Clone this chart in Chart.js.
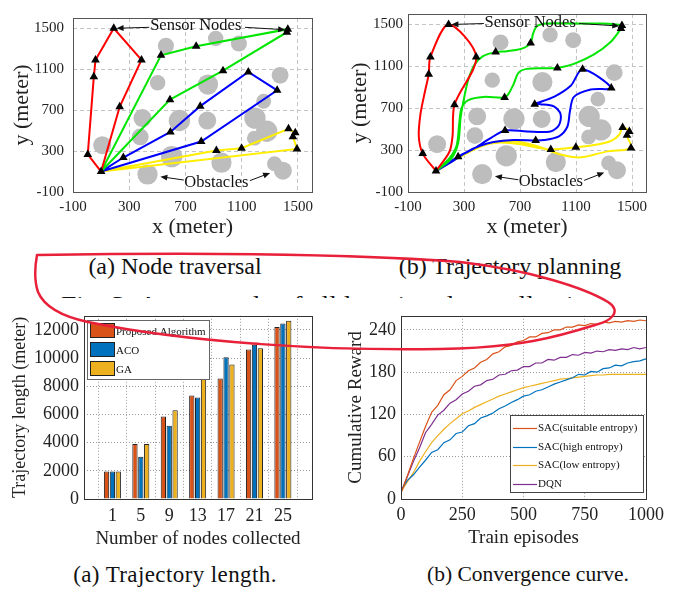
<!DOCTYPE html>
<html lang="en">
<head>
<meta charset="UTF-8">
<title>Node traversal, trajectory planning, trajectory length and convergence</title>
<script src="https://cdn.jsdelivr.net/npm/chart.js"></script>
<style>
    body {
        margin: 0;
        width: 681px;
        height: 595px;
        position: relative;
        overflow: hidden;
        background: #fff;
        font-family: 'Liberation Serif', 'Times New Roman', serif;
        color: #111;
    }
    canvas { position: absolute; z-index: 2; }
    .cap {
        position: absolute;
        width: 320px;
        text-align: center;
        line-height: 1;
        white-space: nowrap;
        z-index: 2;
    }
    .fig {
        position: absolute;
        left: 61px;
        top: 292px;
        font-size: 24px;
        line-height: 1;
        white-space: nowrap;
        transform: scaleX(1.15);
        transform-origin: left top;
    }
    .cover {
        position: absolute;
        left: 0; top: 298px;
        width: 681px; height: 297px;
        background: #fff;
        z-index: 1;
    }
    svg { position: absolute; left: 0; top: 0; z-index: 5; pointer-events: none; }
</style>
</head>
<body>

<canvas id="mapA" width="340" height="240" style="left:0;top:0"></canvas>
<canvas id="mapB" width="341" height="240" style="left:340px;top:0"></canvas>
<div class="cap" style="left:15px;top:254px;font-size:24px">(a) Node traversal</div>
<div class="cap" style="left:350px;top:254px;font-size:24px">(b) Trajectory planning</div>
<div class="fig">Fig. 3: An example of all location data collection</div>

<div class="cover"></div>
<canvas id="lengthChart" width="340" height="250" style="left:0;top:300px"></canvas>
<canvas id="rewardChart" width="341" height="250" style="left:340px;top:300px"></canvas>
<div class="cap" style="left:15px;top:563px;font-size:23px;letter-spacing:0.4px">(a) Trajectory length.</div>
<div class="cap" style="left:368px;top:564px;font-size:21.5px">(b) Convergence curve.</div>

<svg width="681" height="595">
    <path d="M 37 255 C 160 253, 330 252, 460 262 C 530 270, 585 288, 608 302 C 622 311, 612 321, 595 325
             C 560 336, 520 348, 440 349 C 330 351, 190 343, 88 322 C 60 316, 44 306, 38 292 C 34 280, 35 266, 37 255"
          fill="none" stroke="#e8203a" stroke-width="2.5" stroke-linecap="round"/>
</svg>

<script>
    // ---- map figures (meters) ----
    const mapTicks = [-100, 300, 700, 1100, 1500];

    const obstacleX = [108, 430, 378, 394, 502, 561, 657, 602, 855, 860, 915, 1080, 956, 1373, 1256, 1194, 1278, 1190, 1333, 1393];
    const obstacleY = [357, 71, 438, 622, 968, 1329, 598, 246, 598, 950, 1401, 1350, 186, 1040, 787, 622, 493, 426, 177, 108];
    const obstacleR = [64, 72, 60, 64, 55, 57, 76, 76, 64, 72, 55, 57, 72, 60, 53, 76, 76, 53, 53, 64];

    // node visiting order of each UAV (left figure)
    const redRoute = [[100, 100], [5, 267], [48, 1025], [60, 1190], [190, 1500], [387, 1190], [232, 733], [100, 100]];
    const greenRoute = [[100, 100], [590, 802], [967, 1085], [1421, 1461], [1428, 1491], [776, 1323], [526, 1236], [100, 100]];
    const blueRoute = [[100, 100], [258, 237], [593, 487], [805, 739], [1147, 1073], [1352, 893], [812, 393], [100, 100]];
    const yellowRoute = [[100, 100], [920, 306], [1099, 327], [1433, 517], [1481, 478], [1464, 441], [1493, 321], [100, 100]];

    // planned trajectories (right figure)
    const redPath = [[100, 100], [5, 267], [-23, 432], [-11, 643], [20, 853], [48, 1025], [60, 1190], [190, 1500],
        [387, 1190], [232, 733], [218, 432], [195, 282], [100, 100]];
    const greenPath = [[100, 100], [195, 222], [247, 342], [266, 553], [283, 703], [331, 778], [439, 808], [590, 802],
        [618, 838], [654, 929], [690, 1040], [750, 1076], [870, 1082], [967, 1085], [1085, 1124], [1229, 1214],
        [1349, 1335], [1421, 1461], [1428, 1491], [1277, 1509], [1085, 1509], [894, 1509], [822, 1485], [793, 1410],
        [776, 1323], [714, 1269], [607, 1245], [526, 1236], [439, 1199], [379, 1124], [331, 974], [300, 793],
        [276, 613], [259, 372], [211, 222], [100, 100]];
    const bluePath = [[100, 100], [258, 237], [367, 312], [475, 402], [593, 487], [750, 478], [918, 478], [978, 538],
        [990, 643], [942, 718], [846, 739], [805, 739], [942, 808], [1062, 914], [1147, 1073], [1352, 893],
        [1205, 878], [1085, 808], [1057, 673], [1038, 523], [978, 432], [870, 396], [812, 393], [654, 396],
        [511, 378], [415, 342], [319, 282], [223, 198], [100, 100]];
    const yellowPath = [[100, 100], [247, 222], [415, 336], [559, 372], [702, 357], [846, 318], [920, 306], [1099, 327],
        [1229, 348], [1349, 387], [1409, 447], [1433, 517], [1481, 478], [1464, 441], [1493, 321], [1325, 288],
        [1133, 231], [990, 258], [846, 327], [702, 378], [559, 387], [391, 318], [223, 198], [100, 100]];

    const routeColors = ['#ff0000', '#00e600', '#0000ff', '#ffee00'];

    const noteText = ['Sensor Nodes', 'Obstacles'];
    const noteAt = [[773, 1521], [920, -4]];
    const arrowFrom = [[442, 1509], [1123, 1509], [688, 17], [1158, 11]];
    const arrowTo = [[210, 1500], [1409, 1485], [521, 50], [1302, 86]];

    // ---- trajectory length ----
    const nodesCollected = [1, 5, 9, 13, 17, 21, 25];
    const lenProposed = [1950, 3900, 5850, 7350, 8550, 10600, 12200];
    const lenACO = [1950, 3000, 5200, 7200, 10050, 10950, 12450];
    const lenGA = [1950, 3900, 6300, 8800, 9550, 10700, 12650];
    const lengthTicks = [0, 2000, 4000, 6000, 8000, 10000, 12000];

    // ---- convergence ----
    const episodes = [0, 25, 50, 75, 100, 125, 150, 175, 200, 225, 250, 275, 300, 325, 350, 375, 400, 425, 450, 475, 500,
        525, 550, 575, 600, 625, 650, 675, 700, 725, 750, 775, 800, 825, 850, 875, 900, 925, 950, 975, 1000];
    const rewardSuitable = [8, 32, 57, 80, 103, 123, 133, 148, 155, 168, 174, 182, 186, 194, 198, 206, 209, 216, 218, 223, 225,
        230, 230, 235, 236, 240, 240, 244, 244, 247, 246, 249, 248, 251, 250, 252, 251, 253, 252, 254, 253];
    const rewardHigh = [12, 26, 34, 45, 55, 66, 70, 80, 84, 93, 95, 104, 107, 115, 118, 122, 128, 132, 137, 141, 146,
        148, 153, 155, 159, 163, 166, 169, 172, 177, 176, 181, 180, 185, 186, 190, 189, 193, 195, 196, 199];
    const rewardLow = [10, 24, 37, 53, 67, 80, 90, 99, 107, 114, 121, 125, 130, 134, 138, 142, 146, 149, 152, 155, 158,
        160, 162, 164, 166, 168, 170, 171, 172, 173, 174, 175, 176, 176, 177, 177, 177, 177, 177, 177, 177];
    const rewardDQN = [10, 31, 53, 72, 94, 106, 119, 126, 136, 141, 149, 153, 160, 162, 168, 170, 176, 177, 182, 183, 188,
        188, 193, 193, 198, 197, 201, 201, 205, 204, 208, 207, 210, 209, 212, 211, 213, 212, 215, 213, 215];
    const rewardTicks = [0, 60, 120, 180, 240];
    const episodeTicks = [0, 250, 500, 750, 1000];

    Chart.defaults.font.family = "'Liberation Serif', 'Times New Roman', serif";
    Chart.defaults.color = '#222';
    Chart.defaults.animation = false;
    Chart.defaults.events = [];
    Chart.defaults.plugins.legend.display = false;
    Chart.defaults.plugins.tooltip.enabled = false;

    const frame = {
        id: 'frame',
        afterDraw(chart, args, opts) {
            const { ctx, chartArea: a } = chart;
            ctx.save();
            ctx.strokeStyle = opts.color || '#333';
            ctx.lineWidth = 1;
            ctx.strokeRect(Math.round(a.left) + 0.5, Math.round(a.top) + 0.5,
                Math.round(a.right - a.left), Math.round(a.bottom - a.top));
            ctx.restore();
        }
    };

    const mapNotes = {
        id: 'mapNotes',
        afterDatasetsDraw(chart) {
            const { ctx, scales: { x, y } } = chart;
            ctx.save();
            ctx.fillStyle = '#111';
            ctx.strokeStyle = '#111';
            ctx.lineWidth = 1;
            arrowFrom.forEach((f, i) => {
                const x0 = x.getPixelForValue(f[0]), y0 = y.getPixelForValue(f[1]);
                const x1 = x.getPixelForValue(arrowTo[i][0]), y1 = y.getPixelForValue(arrowTo[i][1]);
                const ang = Math.atan2(y1 - y0, x1 - x0);
                ctx.beginPath();
                ctx.moveTo(x0, y0);
                ctx.lineTo(x1 - 5 * Math.cos(ang), y1 - 5 * Math.sin(ang));
                ctx.stroke();
                ctx.beginPath();
                ctx.moveTo(x1, y1);
                ctx.lineTo(x1 - 7 * Math.cos(ang) + 3 * Math.sin(ang), y1 - 7 * Math.sin(ang) - 3 * Math.cos(ang));
                ctx.lineTo(x1 - 7 * Math.cos(ang) - 3 * Math.sin(ang), y1 - 7 * Math.sin(ang) + 3 * Math.cos(ang));
                ctx.closePath();
                ctx.fill();
            });
            ctx.font = "16.5px 'Liberation Serif', serif";
            ctx.textAlign = 'center';
            ctx.textBaseline = 'middle';
            noteText.forEach((t, i) => {
                ctx.fillText(t, x.getPixelForValue(noteAt[i][0]), y.getPixelForValue(noteAt[i][1]));
            });
            ctx.restore();
        }
    };

    const toPoints = arr => arr.map(p => ({ x: p[0], y: p[1] }));
    const setTicks = values => scale => { scale.ticks = values.map(v => ({ value: v })); };

    function mapChart(id, paths, tension, yAxisWidth, rightPad, yTitlePad, yTickPad) {
        const nodes = [];
        [redRoute, greenRoute, blueRoute, yellowRoute].forEach(r => r.forEach(p => {
            if (!nodes.some(n => n[0] === p[0] && n[1] === p[1])) nodes.push(p);
        }));

        const datasets = [{
            data: toPoints(nodes),
            pointStyle: 'triangle',
            pointRadius: 5,
            backgroundColor: '#000',
            borderColor: '#000',
            borderWidth: 0,
            order: 0
        }];
        paths.forEach((p, i) => datasets.push({
            data: toPoints(p),
            showLine: true,
            borderColor: routeColors[i],
            borderWidth: 2,
            pointRadius: 0,
            tension: tension,
            order: 1
        }));
        datasets.push({
            data: obstacleX.map((v, i) => ({ x: v, y: obstacleY[i] })),
            backgroundColor: '#bdbdbd',
            borderWidth: 0,
            pointRadius: c => {
                const s = c.chart.scales.x;
                return Math.abs(s.getPixelForValue(obstacleR[c.dataIndex]) - s.getPixelForValue(0));
            },
            order: 2
        });

        const axis = (title, horizontal, size, titlePad, tickPad) => ({
            type: 'linear',
            min: -100,
            max: 1600,
            afterBuildTicks: setTicks(mapTicks),
            afterFit: s => { if (horizontal) s.height = size; else s.width = size; },
            ticks: { callback: v => String(v), font: { size: 15 }, padding: tickPad, maxRotation: 0, autoSkip: false },
            grid: { color: '#c4c4c4', drawTicks: false },
            border: { display: false, dash: [4, 3] },
            title: { display: true, text: title, font: { size: 22 }, padding: titlePad }
        });

        return new Chart(document.getElementById(id), {
            type: 'scatter',
            data: { datasets },
            options: {
                responsive: false,
                devicePixelRatio: 1,
                layout: { padding: { left: 0, top: 4, right: rightPad, bottom: 0 } },
                scales: {
                    x: axis('x (meter)', true, 48, { top: 0, bottom: 0 }, 6),
                    y: axis('y (meter)', false, yAxisWidth, { top: yTitlePad, bottom: 0 }, yTickPad)
                },
                plugins: { frame: { color: '#555' } }
            },
            plugins: [frame, mapNotes]
        });
    }

    mapChart('mapA', [redRoute, greenRoute, blueRoute, yellowRoute], 0, 73, 28, 9, 9);
    mapChart('mapB', [redPath, greenPath, bluePath, yellowPath], 0.3, 68, 35, 7, 5);

    // ---- bar chart with inset legend ----
    const barLegend = {
        id: 'barLegend',
        afterDatasetsDraw(chart) {
            const { ctx, chartArea: a } = chart;
            const x = Math.round(a.left) + 3, y = Math.round(a.top) + 4, w = 122, h = 59;
            ctx.save();
            ctx.fillStyle = '#fff';
            ctx.fillRect(x, y, w, h);
            ctx.strokeStyle = '#666';
            ctx.lineWidth = 1;
            ctx.strokeRect(x + 0.5, y + 0.5, w, h);
            ctx.font = "11px 'Liberation Serif', serif";
            ctx.textBaseline = 'middle';
            chart.data.datasets.forEach((ds, i) => {
                const ry = y + 3 + i * 19;
                ctx.fillStyle = ds.backgroundColor;
                ctx.fillRect(x + 3, ry, 24, 14);
                ctx.strokeStyle = '#222';
                ctx.strokeRect(x + 3.5, ry + 0.5, 24, 14);
                ctx.fillStyle = '#111';
                ctx.fillText(ds.label, x + 29, ry + 9);
            });
            ctx.restore();
        }
    };

    const barSet = (label, values, color) => ({
        label,
        data: nodesCollected.map((n, i) => ({ x: n, y: values[i] })),
        backgroundColor: color,
        borderColor: '#222',
        borderWidth: 1,
        barPercentage: 0.9,
        categoryPercentage: 0.62
    });

    new Chart(document.getElementById('lengthChart'), {
        type: 'bar',
        data: {
            datasets: [
                barSet('Proposed Algorithm', lenProposed, '#D95319'),
                barSet('ACO', lenACO, '#0072BD'),
                barSet('GA', lenGA, '#EDB120')
            ]
        },
        options: {
            responsive: false,
            devicePixelRatio: 1,
            layout: { padding: { left: 0, top: 15, right: 28, bottom: 0 } },
            scales: {
                x: {
                    type: 'linear',
                    min: -3,
                    max: 29.1,
                    offset: false,
                    afterBuildTicks: setTicks(nodesCollected),
                    afterFit: s => { s.height = 51; },
                    ticks: { callback: v => String(v), font: { size: 18 }, padding: 6, maxRotation: 0, autoSkip: false },
                    grid: { color: '#9a9a9a', drawTicks: false },
                    border: { display: false, dash: [1, 2] },
                    title: { display: true, text: 'Number of nodes collected', font: { size: 19 }, padding: { top: 0, bottom: 0 } }
                },
                y: {
                    min: 0,
                    max: 13000,
                    afterBuildTicks: setTicks(lengthTicks),
                    afterFit: s => { s.width = 84; },
                    ticks: { callback: v => String(v), font: { size: 18 }, padding: 5 },
                    grid: { color: '#9a9a9a', drawTicks: false },
                    border: { display: false, dash: [1, 2] },
                    title: { display: true, text: 'Trajectory length (meter)', font: { size: 18 }, padding: { top: 9, bottom: 0 } }
                }
            },
            plugins: { frame: { color: '#333' } }
        },
        plugins: [frame, barLegend]
    });

    // ---- convergence curves with inset legend ----
    const curveLegend = {
        id: 'curveLegend',
        afterDatasetsDraw(chart) {
            const { ctx, chartArea: a } = chart;
            const w = 133, h = 77;
            const x = Math.round(a.right) - 3 - w, y = Math.round(a.bottom) - 7 - h;
            ctx.save();
            ctx.fillStyle = '#fff';
            ctx.fillRect(x, y, w, h);
            ctx.strokeStyle = '#444';
            ctx.lineWidth = 1;
            ctx.strokeRect(x + 0.5, y + 0.5, w, h);
            ctx.font = "11px 'Liberation Serif', serif";
            ctx.textBaseline = 'middle';
            chart.data.datasets.forEach((ds, i) => {
                const ry = Math.round(y + 13 + i * 18.7) + 0.5;
                ctx.strokeStyle = ds.borderColor;
                ctx.lineWidth = 1.2;
                ctx.beginPath();
                ctx.moveTo(x + 3, ry);
                ctx.lineTo(x + 27, ry);
                ctx.stroke();
                ctx.fillStyle = '#111';
                ctx.fillText(ds.label, x + 28, ry);
            });
            ctx.restore();
        }
    };

    const curveSet = (label, values, color) => ({
        label,
        data: episodes.map((e, i) => ({ x: e, y: values[i] })),
        borderColor: color,
        borderWidth: 1.2,
        pointRadius: 0,
        tension: 0
    });

    new Chart(document.getElementById('rewardChart'), {
        type: 'line',
        data: {
            datasets: [
                curveSet('SAC(suitable entropy)', rewardSuitable, '#D95319'),
                curveSet('SAC(high entropy)', rewardHigh, '#0072BD'),
                curveSet('SAC(low entropy)', rewardLow, '#EDB120'),
                curveSet('DQN', rewardDQN, '#7E2F8E')
            ]
        },
        options: {
            responsive: false,
            devicePixelRatio: 1,
            layout: { padding: { left: 0, top: 15, right: 35, bottom: 0 } },
            scales: {
                x: {
                    type: 'linear',
                    min: 0,
                    max: 1000,
                    afterBuildTicks: setTicks(episodeTicks),
                    afterFit: s => { s.height = 51; },
                    ticks: { callback: v => String(v), font: { size: 18 }, padding: 5, maxRotation: 0, autoSkip: false },
                    grid: { color: '#9a9a9a', drawTicks: false },
                    border: { display: false, dash: [1, 2] },
                    title: { display: true, text: 'Train episodes', font: { size: 19 }, padding: { top: 0, bottom: 1 } }
                },
                y: {
                    min: 0,
                    max: 260,
                    afterBuildTicks: setTicks(rewardTicks),
                    afterFit: s => { s.width = 61; },
                    ticks: { callback: v => String(v), font: { size: 18 }, padding: 5 },
                    grid: { color: '#9a9a9a', drawTicks: false },
                    border: { display: false, dash: [1, 2] },
                    title: { display: true, text: 'Cumulative Reward', font: { size: 19 }, padding: { top: 5, bottom: 0 } }
                }
            },
            plugins: { frame: { color: '#333' } }
        },
        plugins: [frame, curveLegend]
    });
</script>
</body>
</html>
